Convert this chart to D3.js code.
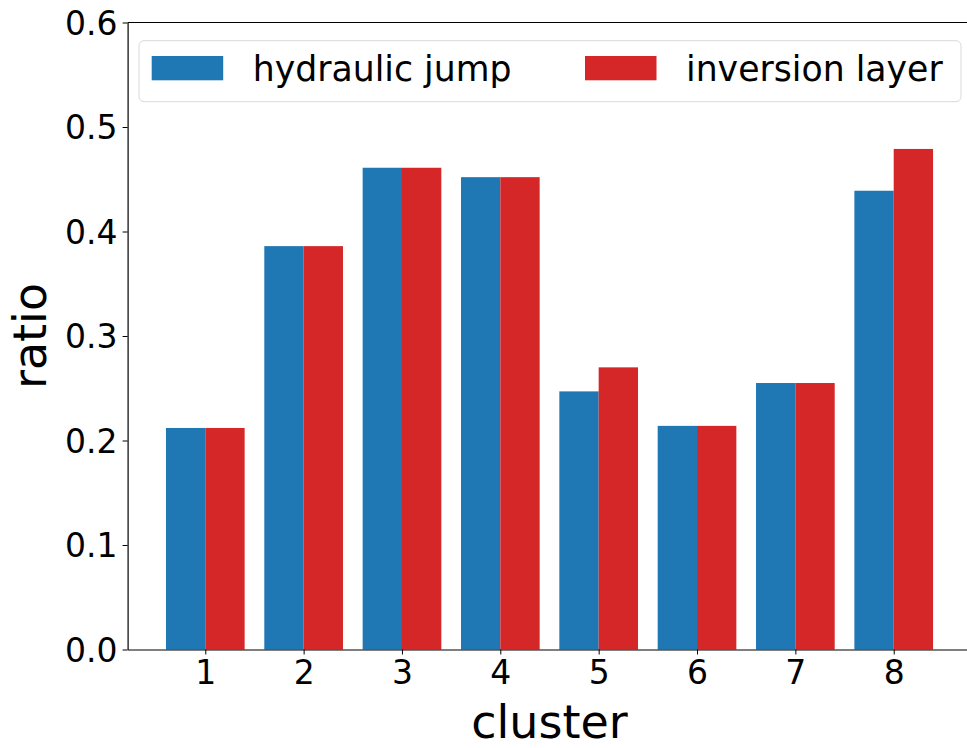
<!DOCTYPE html>
<html><head><meta charset="utf-8">
<script src="https://cdn.jsdelivr.net/npm/d3@7"></script>
<style>body{margin:0;background:#fff;} text{font-family:"DejaVu Sans",sans-serif;fill:#000;}</style>
</head><body>
<svg id="c" width="967" height="748"></svg>
<script>
const clusters = [1,2,3,4,5,6,7,8];
const hydraulicJump = [0.212,0.386,0.461,0.452,0.247,0.214,0.255,0.439];
const inversionLayer = [0.212,0.386,0.461,0.452,0.270,0.214,0.255,0.479];
const seriesNames = ["hydraulic jump","inversion layer"];
const seriesColors = ["#1f77b4","#d62728"];
const yTicks = [0,0.1,0.2,0.3,0.4,0.5,0.6];

const svg = d3.select("#c");
const L = 127.6, R = 971.4, T = 22.5, B = 649.5;
const x = d3.scaleLinear().domain([0.21, 8.79]).range([L, R]);
const y = d3.scaleLinear().domain([0, 0.6]).range([B, T]);
const bw = 0.4;

const g = svg.append("g");
[hydraulicJump, inversionLayer].forEach((vals, si) => {
  g.selectAll(null).data(clusters).enter().append("rect")
    .attr("x", (d,i) => x(d - bw + si*bw))
    .attr("width", x(bw) - x(0))
    .attr("y", (d,i) => y(vals[i]))
    .attr("height", (d,i) => y(0) - y(vals[i]))
    .attr("fill", seriesColors[si]);
});

const xAxis = svg.append("g").attr("transform", `translate(0,${B})`)
  .call(d3.axisBottom(x).tickValues(clusters).tickFormat(d3.format("d")).tickSize(5).tickSizeOuter(0).tickPadding(6));
const yAxis = svg.append("g").attr("transform", `translate(${L},0)`)
  .call(d3.axisLeft(y).tickValues(yTicks).tickFormat(d3.format(".1f")).tickSize(5).tickSizeOuter(0).tickPadding(5));
[xAxis, yAxis].forEach(a => {
  a.selectAll("text").style("font-size","33px").attr("fill","#000");
  a.selectAll("line").attr("stroke","#000").attr("stroke-width",1);
  a.select(".domain").attr("stroke","#000").attr("stroke-width",1.2);
});
yAxis.selectAll("text").attr("dy","0.36em");
xAxis.selectAll("text").attr("dy","0.72em");
// top and right spines
svg.append("line").attr("x1",L).attr("x2",R).attr("y1",T).attr("y2",T).attr("stroke","#000").attr("stroke-width",1.2);
svg.append("line").attr("x1",R).attr("x2",R).attr("y1",T).attr("y2",B).attr("stroke","#000").attr("stroke-width",1.2);

svg.append("text").attr("x",(L+R)/2).attr("y",738).attr("text-anchor","middle").style("font-size","46px").text("cluster");
svg.append("text").attr("transform",`translate(46,${(T+B)/2}) rotate(-90)`).attr("text-anchor","middle").style("font-size","46px").text("ratio");

// legend
const lg = svg.append("g");
lg.append("rect").attr("x",139).attr("y",40.7).attr("width",822).attr("height",61).attr("rx",5)
  .attr("fill","#fff").attr("fill-opacity",0.8).attr("stroke","#d9d9d9").attr("stroke-width",1);
const legX = [151.7, 585];
seriesNames.forEach((n, i) => {
  lg.append("rect").attr("x",legX[i]).attr("y",56).attr("width",71.5).attr("height",24.3).attr("fill",seriesColors[i]);
  lg.append("text").attr("x",legX[i]+101).attr("y",80.5).style("font-size","34.7px").text(n);
});
</script>
</body></html>
